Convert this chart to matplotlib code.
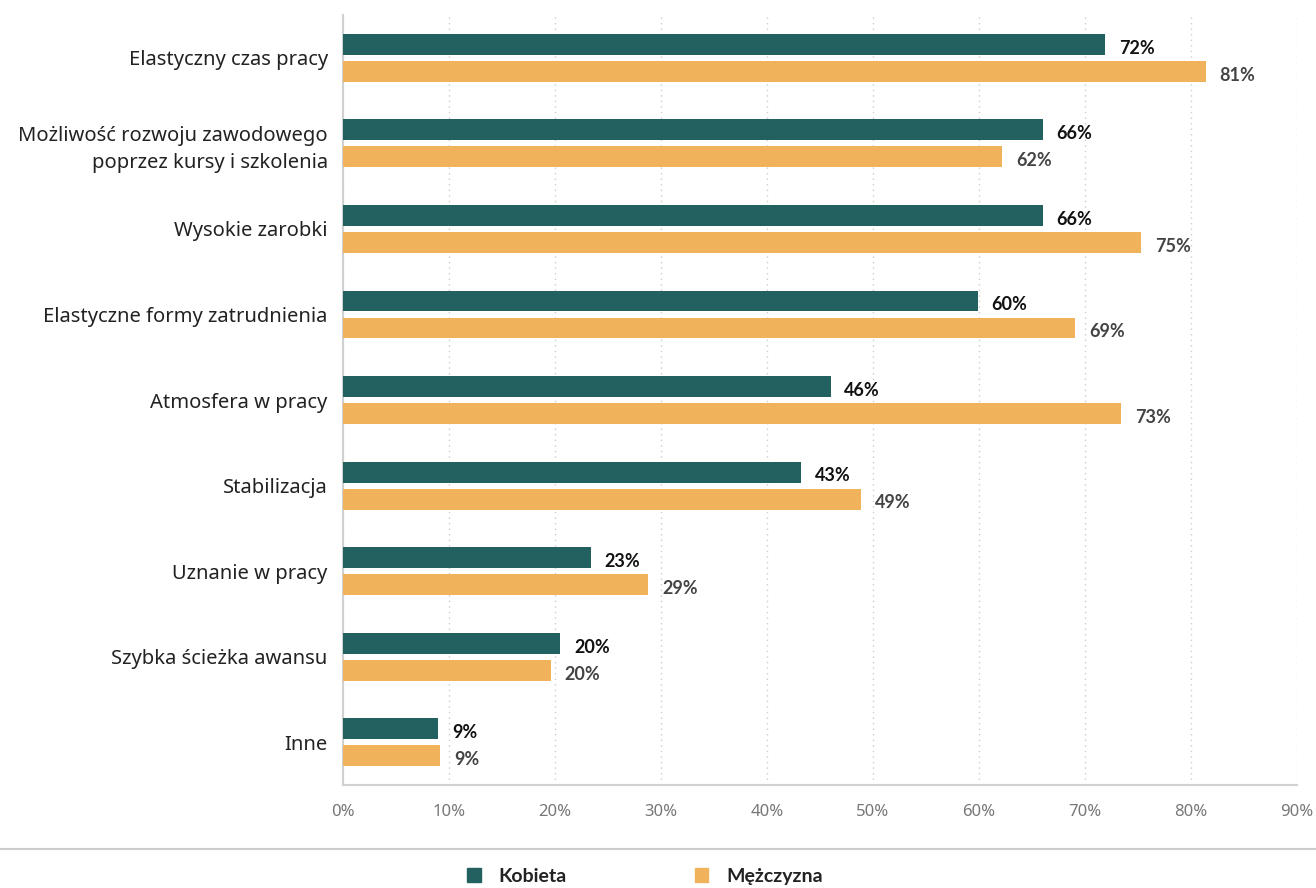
import matplotlib.pyplot as plt
import matplotlib.lines as mlines
import numpy as np

plt.rcParams['font.family'] = ['Lato', 'DejaVu Sans']

# data (percent)
categories = ["Elastyczny czas pracy",
              "Możliwość rozwoju zawodowego\npoprzez kursy i szkolenia",
              "Wysokie zarobki",
              "Elastyczne formy zatrudnienia",
              "Atmosfera w pracy",
              "Stabilizacja",
              "Uznanie w pracy",
              "Szybka ścieżka awansu",
              "Inne"]
kobieta = [71.9, 66.0, 66.0, 59.9, 46.0, 43.2, 23.4, 20.5, 9.0]
mezczyzna = [81.4, 62.2, 75.3, 69.1, 73.4, 48.9, 28.8, 19.6, 9.2]
series_names = ["Kobieta", "Mężczyzna"]
xticks = [0, 10, 20, 30, 40, 50, 60, 70, 80, 90]

c_k = "#22615f"
c_m = "#f0b35b"

fig = plt.figure(figsize=(13.16, 8.88), dpi=100)
ax = fig.add_axes([0.2606, 0.116, 0.725, 0.867])

y = np.arange(len(categories))
h = 0.245
off = 0.158
ax.barh(y - off, kobieta, height=h, color=c_k, zorder=3)
ax.barh(y + off, mezczyzna, height=h, color=c_m, zorder=3)

for i in range(len(categories)):
    ax.text(kobieta[i] + 1.3, y[i] - off + 0.045, f"{round(kobieta[i])}%",
            va="center", ha="left", fontsize=13, fontweight="bold", color="#111111")
    ax.text(mezczyzna[i] + 1.3, y[i] + off + 0.045, f"{round(mezczyzna[i])}%",
            va="center", ha="left", fontsize=13, fontweight="bold", color="#444444")

ax.set_ylim(len(categories) - 0.5, -0.5)
ax.set_xlim(0, 90)
ax.set_yticks(y)
ax.set_yticklabels(categories, fontsize=14.5, color="#222222", linespacing=1.5,
                   ha="right", family=["Noto Sans", "DejaVu Sans"])
ax.set_xticks(xticks)
ax.set_xticklabels([f"{t}%" for t in xticks], fontsize=12, color="#777777",
                   family=["Noto Sans", "DejaVu Sans"])
ax.tick_params(axis="y", length=0, pad=11)
ax.tick_params(axis="x", length=0, pad=14)

ax.grid(axis="x", linestyle=(0, (1, 3)), color="#cccccc", linewidth=1, zorder=0)
for s in ["top", "right"]:
    ax.spines[s].set_visible(False)
ax.spines["left"].set_color("#d0d0d0")
ax.spines["bottom"].set_color("#d0d0d0")
ax.spines["left"].set_linewidth(1.5)
ax.spines["bottom"].set_linewidth(1.5)

# separator line above legend
fig.add_artist(mlines.Line2D([0, 1], [0.044, 0.044], color="#cccccc", linewidth=1.5))

handles = [plt.Rectangle((0, 0), 1, 1, color=c_k), plt.Rectangle((0, 0), 1, 1, color=c_m)]
leg = fig.legend(handles, series_names, loc="center", bbox_to_anchor=(0.49, 0.0135),
                 ncol=2, frameon=False, handlelength=0.7, handleheight=0.7,
                 handletextpad=0.9, columnspacing=6.6,
                 prop={"size": 14, "weight": "bold"})
for t in leg.get_texts():
    t.set_color("#222222")

fig.savefig("out.png", dpi=100)
